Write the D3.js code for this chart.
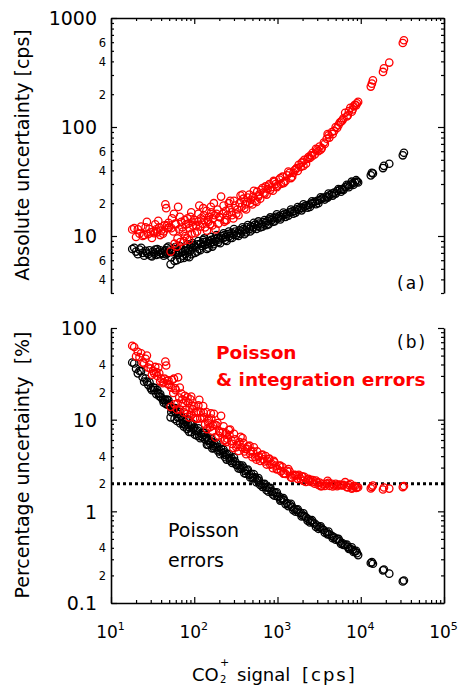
<!DOCTYPE html>
<html><head><meta charset="utf-8">
<script src="https://cdn.jsdelivr.net/npm/d3@7/dist/d3.min.js"></script>
<style>
body{margin:0;background:#fff}
svg{display:block}
text{font-family:"DejaVu Sans",sans-serif}
</style>
</head><body>
<svg id="c" width="462" height="687"></svg>
<script>
// ---- data ----
const signal = [18,19,20,21,22,23,24,25,27,28,29,30,32,33,35,36,37,38,40,42,44,45,46,47,48,50,52,54,56,57,58,60,62,64,66,68,70,72,75,77,78,80,82,85,88,90,92,93,96,100,
105,108,110,115,120,125,128,130,135,140,145,148,150,155,160,168,172,175,180,190,195,200,210,220,230,235,240,250,265,270,280,295,
310,320,330,350,360,370,390,410,420,430,460,480,500,510,540,570,600,620,640,680,720,740,760,800,850,880,900,950,
1000,1050,1100,1150,1200,1250,1300,1400,1500,1550,1600,1700,1800,1900,2000,2100,2200,2350,2450,2500,2650,2800,3000,3100,3200,3400,3600,3900,4000,4200,4500,4800,5000,5200,5600,6000,6200,6500,7000,7500,8000,8500,9000,
13200,13600,14000,18500,19000,22000,32000,33000,
26,31,34,39,43,49,53,59,63,67,73,83,87,95,102,112,118,132,142,158,165,185,205,225,245,260,285,300,340,380,400,440,470,520,560,590,660,700,780,820,920,980,
1080,1180,1350,1450,1650,1750,1950,2050,2300,2600,2900,3300,3700,4100,4600,5400,5800,6800,7200,7800,8200,8800,9300];
const absPoisson = [7.6,7.8,7.2,6.8,7.5,7.8,7.0,6.6,7.0,6.8,7.4,6.6,7.2,6.9,6.7,7.6,7.2,6.8,7.0,6.9,7.2,7.4,6.8,7.8,7.0,7.5,5.5,7.1,7.3,7.6,5.9,7.2,6.0,7.4,7.0,6.2,7.6,7.1,6.3,7.3,6.8,7.8,6.5,7.5,7.2,8.0,8.3,6.8,7.7,8.2,
7.9,7.2,8.4,7.6,8.5,8.1,9.2,8.8,8.3,8.9,8.5,7.8,9.0,8.6,9.2,8.8,8.4,9.4,9.0,9.6,8.8,9.3,10.0,9.5,10.2,9.2,9.8,10.4,10.0,9.6,10.7,10.3,
11.0,10.2,10.6,11.3,10.5,11.0,11.6,11.3,10.8,12.0,11.6,12.3,11.5,12.0,12.7,12.4,13.0,12.0,12.8,13.4,13.2,12.6,13.8,14.2,14.0,13.5,14.6,15.0,
14.5,15.2,14.8,15.5,15.8,15.0,16.0,16.5,16.8,16.0,17.0,17.6,17.4,18.2,18.0,18.6,19.0,19.2,18.5,19.8,20.0,20.6,21.0,20.0,21.4,22.0,22.5,23.0,22.5,23.6,24.5,25.0,24.5,25.8,26.5,27.0,26.5,28.0,29.0,29.5,30.5,31.0,31.5,
36.0,38.0,37.5,42.0,44.0,46.0,55.0,58.0,
7.3,6.5,7.5,7.4,6.6,8.0,6.4,7.9,6.7,8.1,6.6,8.4,6.4,8.6,7.0,9.0,7.4,9.5,7.6,9.8,8.0,10.2,8.6,10.6,9.0,11.0,9.6,11.6,10.0,12.0,10.4,12.6,11.0,13.2,11.6,13.6,12.2,14.0,12.8,14.8,13.6,15.8,
14.2,16.4,15.4,17.5,16.4,18.4,17.2,19.5,18.2,20.8,19.6,22.6,21.6,24.5,23.5,27.0,25.5,29.5,28.0,31.5,29.5,32.5,31.0];
const absTotal = [11.5,11.8,9.8,11.5,10.5,12.2,10.0,10.2,13.5,10.4,11.6,10.8,11.0,10.6,11.5,10.8,13.8,12.0,11.2,10.5,12.5,19.5,18.0,12.5,11.8,12.0,7.2,14.5,11.0,16.0,8.5,12.8,8.0,18.5,11.5,8.8,13.5,12.0,9.0,14.0,10.0,12.8,9.5,13.0,11.8,15.0,16.5,10.5,12.5,14.0,
12.5,11.0,13.5,19.0,14.5,13.0,18.0,15.5,12.0,17.0,14.0,13.5,15.0,12.8,16.5,14.5,20.0,15.5,11.5,17.5,13.0,15.0,23.0,16.0,13.5,14.0,17.0,15.5,18.0,21.0,16.5,14.5,
19.0,16.0,17.5,20.0,23.5,18.5,22.0,19.5,17.5,20.5,24.0,21.5,19.5,23.0,21.0,25.5,24.0,22.0,26.5,25.0,28.5,24.0,27.0,30.0,28.0,26.0,32.0,30.0,
29,33,30,35,31,32,36,38,35,38,40,42,45,43,48,50,46,53,52,55,58,56,62,60,66,64,72,78,86,80,90,92,100,98,110,115,120,135,128,150,145,160,165,
235,250,268,320,345,390,590,625,
12.0,9.6,12.8,10.2,11.0,13.2,11.8,13.0,9.5,15.0,11.0,14.5,9.2,13.5,10.6,16.0,12.2,14.0,11.2,18.5,12.5,16.0,14.8,19.0,14.0,20.0,15.5,21.0,15.5,24.0,18.0,22.5,20.0,26.0,20.5,23.0,27.5,24.5,29.0,26.5,31.5,28.0,
34,30.5,39,34,41,39.5,47,44,51,54,63,62,70,84,86,104,112,125,140,138,155,158,170];
const pctPoisson = [42,41,36,32,34,34,29,26,26,24,25.5,22,22.5,21,19,21,19.5,18,17.5,16.4,16.4,16.4,14.8,16.6,14.6,15,10.6,13.1,13,13.3,10.2,12,9.7,11.6,10.6,9.1,10.9,9.9,8.4,9.5,8.7,9.8,7.9,8.8,8.2,8.9,9.0,7.3,8.0,8.2,
7.5,6.7,7.6,6.6,7.1,6.5,7.2,6.8,6.1,6.4,5.9,5.3,6.0,5.5,5.75,5.2,4.9,5.4,5.0,5.05,4.5,4.65,4.8,4.3,4.4,3.9,4.1,4.2,3.8,3.56,3.8,3.5,
3.5,3.2,3.2,3.2,2.9,3.0,3.0,2.76,2.57,2.8,2.5,2.56,2.3,2.35,2.35,2.2,2.17,1.94,2.0,1.97,1.83,1.7,1.82,1.78,1.65,1.53,1.62,1.58,
1.45,1.45,1.35,1.35,1.32,1.2,1.23,1.18,1.12,1.03,1.06,1.04,0.97,0.96,0.90,0.89,0.86,0.82,0.755,0.79,0.755,0.736,0.70,0.645,0.67,0.65,0.625,0.59,0.56,0.56,0.54,0.52,0.49,0.50,0.47,0.45,0.43,0.43,0.41,0.39,0.38,0.365,0.35,
0.273,0.279,0.268,0.227,0.232,0.209,0.172,0.176,
28.1,21.0,22.1,19.0,15.3,16.3,12.1,13.4,10.6,12.1,9.0,10.1,7.36,9.05,6.86,8.04,6.27,7.2,5.35,6.2,4.85,5.5,4.2,4.7,3.67,4.23,3.37,3.87,2.94,3.16,2.6,2.86,2.34,2.54,2.07,2.3,1.85,2.0,1.64,1.8,1.48,1.61,
1.31,1.39,1.14,1.21,0.99,1.05,0.88,0.95,0.79,0.8,0.676,0.685,0.584,0.6,0.51,0.5,0.44,0.434,0.39,0.404,0.36,0.37,0.333];
const pctTotal = [64,62,49,55,48,53,42,41,50,37,40,36,34,32,33,30,37,32,28,25,28,43,39,26.6,24.6,24,13.8,27,19.6,28,14.7,21,12.9,29,17.4,12.9,19.3,16.7,12,18.2,12.8,16,11.6,15.3,13.4,16.7,17.9,11.3,13,14,
11.9,10.2,12.3,16.5,12.1,10.4,14.1,11.9,8.9,12.1,9.7,9.1,10,8.3,10.3,8.6,11.6,8.9,6.4,9.2,6.7,7.5,11,7.3,5.9,6.0,7.1,6.2,6.8,7.8,5.9,4.9,
6.1,5.0,5.3,5.7,6.5,5.0,5.6,4.8,4.2,4.8,5.2,4.5,3.9,4.5,3.9,4.5,4.0,3.55,4.1,3.7,4.0,3.24,3.55,3.75,3.3,2.95,3.55,3.16,
2.9,3.14,2.73,3.04,2.58,2.56,2.77,2.71,2.33,2.45,2.5,2.47,2.5,2.26,2.4,2.38,2.09,2.26,2.12,2.2,2.19,2.0,2.07,1.94,2.06,1.88,2.0,2.0,2.15,1.9,2.0,1.92,2.0,1.88,1.96,1.92,1.94,2.08,1.83,2.0,1.81,1.88,1.83,
1.78,1.84,1.91,1.73,1.82,1.77,1.84,1.89,
46.2,31.0,37.6,26.2,25.6,26.9,22.3,22.0,15.1,22.4,15.1,17.5,10.6,14.2,10.4,14.3,10.3,10.6,7.9,11.7,7.58,8.65,7.2,8.44,5.7,7.7,5.44,7.0,4.56,6.3,4.5,5.1,4.26,5.0,3.66,3.9,4.17,3.5,3.72,3.23,3.42,2.86,
3.15,2.58,2.89,2.34,2.48,2.26,2.41,2.15,2.22,2.08,2.17,1.88,1.89,2.05,1.87,1.93,1.93,1.84,1.94,1.77,1.89,1.8,1.83];
const thresholdPct = 2;

const xMajorTicks = [10,100,1000,10000,100000];
const xTickExponents = ["1","2","3","4","5"];
const xMinorTicks = [20,30,40,50,60,70,80,90,200,300,400,500,600,700,800,900,2000,3000,4000,5000,6000,7000,8000,9000,20000,30000,40000,50000,60000,70000,80000,90000];
const topMajorTicks = [10,100,1000];
const topMajorLabels = ["10","100","1000"];
const topMinorLabeled = [4,6,20,40,60,200,400,600];
const topMinorLabels = ["4","6","2","4","6","2","4","6"];
const topMinorPlain = [3,5,7,8,9,30,50,70,80,90,300,500,700,800,900];
const botMajorTicks = [0.1,1,10,100];
const botMajorLabels = ["0.1","1","10","100"];
const botMinorLabeled = [0.2,0.4,2,4,20,40];
const botMinorLabels = ["2","4","2","4","2","4"];
const botMinorPlain = [0.3,0.5,0.6,0.7,0.8,0.9,3,5,6,7,8,9,30,50,60,70,80,90];

// ---- layout ----
const L = 111, R = 444;
const topY0 = 18, topY1 = 293, botY0 = 328, botY1 = 603;
const svg = d3.select("#c");

const x = d3.scaleLog().domain([10, 1e5]).range([L, R]);
const yTop = d3.scaleLog().domain([3, 1000]).range([topY1, topY0]);
const yBot = d3.scaleLog().domain([0.1, 100]).range([botY1, botY0]);

function styleAxis(g, domain) {
  g.selectAll(".tick line").attr("stroke-width", 1.2);
  if (domain) g.select(".domain").attr("stroke-width", 1.6);
  else g.select(".domain").remove();
}

function yAxes(scale, labels) {
  const gl = svg.append("g").attr("transform", `translate(${L},0)`);
  gl.append("g").call(d3.axisLeft(scale).tickValues(labels.major).tickSizeInner(-6).tickSizeOuter(0).tickPadding(14).tickFormat((d,i)=>labels.majorLabels[i]))
    .call(g => { styleAxis(g, true); g.selectAll("text").attr("font-size", 19).attr("dy", "0.36em"); });
  gl.append("g").call(d3.axisLeft(scale).tickValues(labels.minorL).tickSizeInner(-3).tickSizeOuter(0).tickPadding(5).tickFormat((d,i)=>labels.minorLabels[i]))
    .call(g => { styleAxis(g, false); g.selectAll("text").attr("font-size", 11.5).attr("dy", "0.36em"); });
  gl.append("g").call(d3.axisLeft(scale).tickValues(labels.minorP).tickSizeInner(-3).tickSizeOuter(0).tickFormat(""))
    .call(g => styleAxis(g, false));
  const gr = svg.append("g").attr("transform", `translate(${R},0)`);
  gr.append("g").call(d3.axisRight(scale).tickValues(labels.major).tickSizeInner(-6).tickSizeOuter(0).tickFormat(""))
    .call(g => styleAxis(g, true));
  gr.append("g").call(d3.axisRight(scale).tickValues(labels.minorL.concat(labels.minorP)).tickSizeInner(-3).tickSizeOuter(0).tickFormat(""))
    .call(g => styleAxis(g, false));
}

function xAxes(ypos, maker, withLabels) {
  const g = svg.append("g").attr("transform", `translate(0,${ypos})`);
  g.append("g").call(maker(x).tickValues(xMajorTicks).tickSizeInner(-6).tickSizeOuter(0).tickFormat(""))
    .call(gg => {
      styleAxis(gg, true);
      if (withLabels) {
        gg.selectAll(".tick").each(function(d, i) {
          const t = d3.select(this).append("text")
            .attr("fill", "#000").attr("text-anchor", "middle").attr("x", -1).attr("y", 35)
            .attr("font-size", 17);
          t.append("tspan").text("10");
          t.append("tspan").attr("dy", -8).attr("font-size", 11).text(xTickExponents[i]);
        });
      }
    });
  g.append("g").call(maker(x).tickValues(xMinorTicks).tickSizeInner(-3).tickSizeOuter(0).tickFormat(""))
    .call(gg => styleAxis(gg, false));
}

yAxes(yTop, {major: topMajorTicks, majorLabels: topMajorLabels, minorL: topMinorLabeled, minorLabels: topMinorLabels, minorP: topMinorPlain});
yAxes(yBot, {major: botMajorTicks, majorLabels: botMajorLabels, minorL: botMinorLabeled, minorLabels: botMinorLabels, minorP: botMinorPlain});
xAxes(topY0, d3.axisTop, false);
xAxes(botY1, d3.axisBottom, true);

// threshold line
svg.append("line")
  .attr("x1", x(10)).attr("x2", x(1e5))
  .attr("y1", yBot(thresholdPct)).attr("y2", yBot(thresholdPct))
  .attr("stroke", "#000").attr("stroke-width", 3).attr("stroke-dasharray", "3,3");

// points
const idx = d3.range(signal.length);
function drawSeries(scale, vals, color) {
  svg.append("g").selectAll("circle").data(idx).join("circle")
    .attr("cx", i => x(signal[i])).attr("cy", i => scale(vals[i]))
    .attr("r", 3.7).attr("fill", "none").attr("stroke", color).attr("stroke-width", 1.3);
}
drawSeries(yTop, absPoisson, "#000");
drawSeries(yTop, absTotal, "#ff0000");
drawSeries(yBot, pctPoisson, "#000");
drawSeries(yBot, pctTotal, "#ff0000");

// annotations
svg.append("text").attr("x", 397).attr("y", 289).attr("font-size", 17).attr("letter-spacing", 2).text("(a)");
svg.append("text").attr("x", 397).attr("y", 348).attr("font-size", 17).attr("letter-spacing", 2).text("(b)");
svg.append("text").attr("x", 216).attr("y", 359).attr("font-size", 18.5).attr("font-weight", "bold").attr("fill", "#ff0000").text("Poisson");
svg.append("text").attr("x", 216).attr("y", 386).attr("font-size", 18.5).attr("font-weight", "bold").attr("fill", "#ff0000").text("& integration errors");
svg.append("text").attr("x", 168).attr("y", 537).attr("font-size", 19).text("Poisson");
svg.append("text").attr("x", 168).attr("y", 567).attr("font-size", 19).text("errors");

// axis titles
svg.append("text").attr("transform", "translate(29,155) rotate(-90)").attr("text-anchor", "middle")
  .attr("font-size", 19).style("white-space", "pre").text("Absolute uncertainty [cps]");
svg.append("text").attr("transform", "translate(29,465) rotate(-90)").attr("text-anchor", "middle")
  .attr("font-size", 19).style("white-space", "pre").text("Percentage uncertainty  [%]");

const xt = svg.append("g");
xt.append("text").attr("x", 192).attr("y", 681).attr("font-size", 18).text("CO");
xt.append("text").attr("x", 220).attr("y", 666).attr("font-size", 11).text("+");
xt.append("text").attr("x", 220).attr("y", 683).attr("font-size", 10).text("2");
xt.append("text").attr("x", 237).attr("y", 681).attr("font-size", 18).text("signal");
xt.append("text").attr("x", 302).attr("y", 681).attr("font-size", 18).attr("letter-spacing", 2).text("[cps]");
</script>
</body></html>
